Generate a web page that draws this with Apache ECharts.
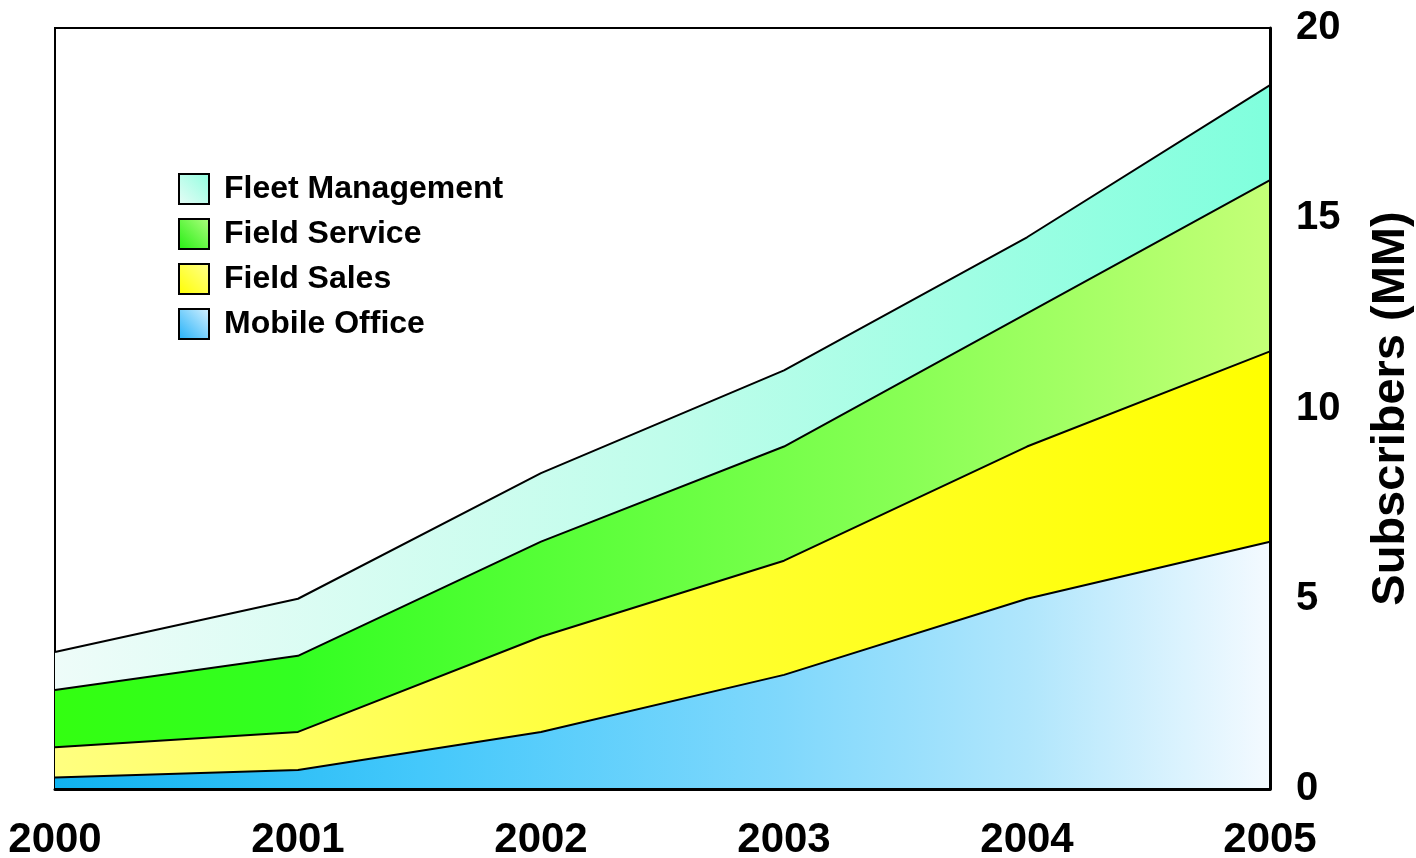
<!DOCTYPE html>
<html>
<head>
<meta charset="utf-8">
<script src="https://cdn.jsdelivr.net/npm/echarts@6/dist/echarts.min.js"></script>
<style>
html,body{margin:0;padding:0;background:#fff;}
#chart{width:1416px;height:858px;}
</style>
</head>
<body>
<div id="chart"></div>
<script>
const years = ['2000','2001','2002','2003','2004','2005'];
const mobileOffice = [0.3, 0.5, 1.5, 3.0, 5.0, 6.5];
const fieldSales = [0.8, 1.0, 2.5, 3.0, 4.0, 5.0];
const fieldService = [1.5, 2.0, 2.5, 3.0, 3.5, 4.5];
const fleetManagement = [1.0, 1.5, 1.8, 2.0, 2.0, 2.5];
const yTicks = [0, 5, 10, 15, 20];

function grad(stops){
  return new echarts.graphic.LinearGradient(0,0,1,0, stops.map((c)=>({offset:c[0], color:c[1]})));
}
const colMobile = grad([[0,'#10b2f0'],[0.3,'#44c8fb'],[0.6,'#80d8fc'],[0.8,'#b0e6fc'],[1,'#f4faff']]);
const colSales = grad([[0,'#ffff80'],[0.5,'#ffff33'],[1,'#ffff00']]);
const colService = grad([[0,'#33ff11'],[0.2,'#33ff22'],[0.7,'#88ff55'],[1,'#c4ff77']]);
const colFleet = grad([[0,'#eefcf9'],[0.5,'#c0fdeb'],[1,'#80ffdd']]);
const legendGrad = (a,b)=>new echarts.graphic.LinearGradient(0,1,1,0,[{offset:0,color:a},{offset:1,color:b}]);

const font = '"Liberation Sans", Arial, sans-serif';
function mk(name, data, color){
  return {
    name, type:'line', stack:'total', data, symbol:'none', smooth:false,
    lineStyle:{color:'#000', width:2},
    itemStyle:{color:'#000'},
    areaStyle:{color, opacity:1},
    emphasis:{disabled:true}, z:2
  };
}
const chart = echarts.init(document.getElementById('chart'));
chart.setOption({
  animation:false,
  backgroundColor:'#fff',
  grid:{left:55, right:146, top:28, bottom:69, show:true, borderColor:'#000', borderWidth:2, containLabel:false, outerBoundsMode:'none'},
  legend:{
    left:178, top:173, padding:0, orient:'vertical', itemWidth:30, itemHeight:30, itemGap:13,
    textStyle:{fontFamily:font, fontWeight:'bold', fontSize:32, color:'#000', padding:[0,0,0,10]},
    data:[
      {name:'Fleet Management', icon:'rect', itemStyle:{color:legendGrad('#e8fcf6','#90ffe0'), borderColor:'#000', borderWidth:2}},
      {name:'Field Service', icon:'rect', itemStyle:{color:legendGrad('#22ee11','#b0ff80'), borderColor:'#000', borderWidth:2}},
      {name:'Field Sales', icon:'rect', itemStyle:{color:legendGrad('#ffff00','#ffff90'), borderColor:'#000', borderWidth:2}},
      {name:'Mobile Office', icon:'rect', itemStyle:{color:legendGrad('#20b0f8','#d8f2ff'), borderColor:'#000', borderWidth:2}}
    ]
  },
  xAxis:{
    type:'category', data:years, boundaryGap:false, z:5,
    axisLine:{show:true, lineStyle:{color:'#000', width:3}},
    axisTick:{show:false},
    axisLabel:{fontFamily:font, fontWeight:'bold', fontSize:42, color:'#000', margin:30, showMinLabel:true, showMaxLabel:true},
    splitLine:{show:false}
  },
  yAxis:{
    type:'value', position:'right', min:yTicks[0], max:yTicks[yTicks.length-1], interval:5, z:5,
    axisLine:{show:true, lineStyle:{color:'#000', width:3}},
    axisTick:{show:false},
    splitLine:{show:false},
    axisLabel:{fontFamily:font, fontWeight:'bold', fontSize:40, color:'#000', margin:26, padding:[6,0,0,0]},
    name:'Subscribers (MM)', nameLocation:'middle', nameRotate:90, nameGap:98,
    nameTextStyle:{fontFamily:font, fontWeight:'bold', fontSize:47, color:'#000'}
  },
  series:[
    mk('Mobile Office', mobileOffice, colMobile),
    mk('Field Sales', fieldSales, colSales),
    mk('Field Service', fieldService, colService),
    mk('Fleet Management', fleetManagement, colFleet)
  ]
});
</script>
</body>
</html>
